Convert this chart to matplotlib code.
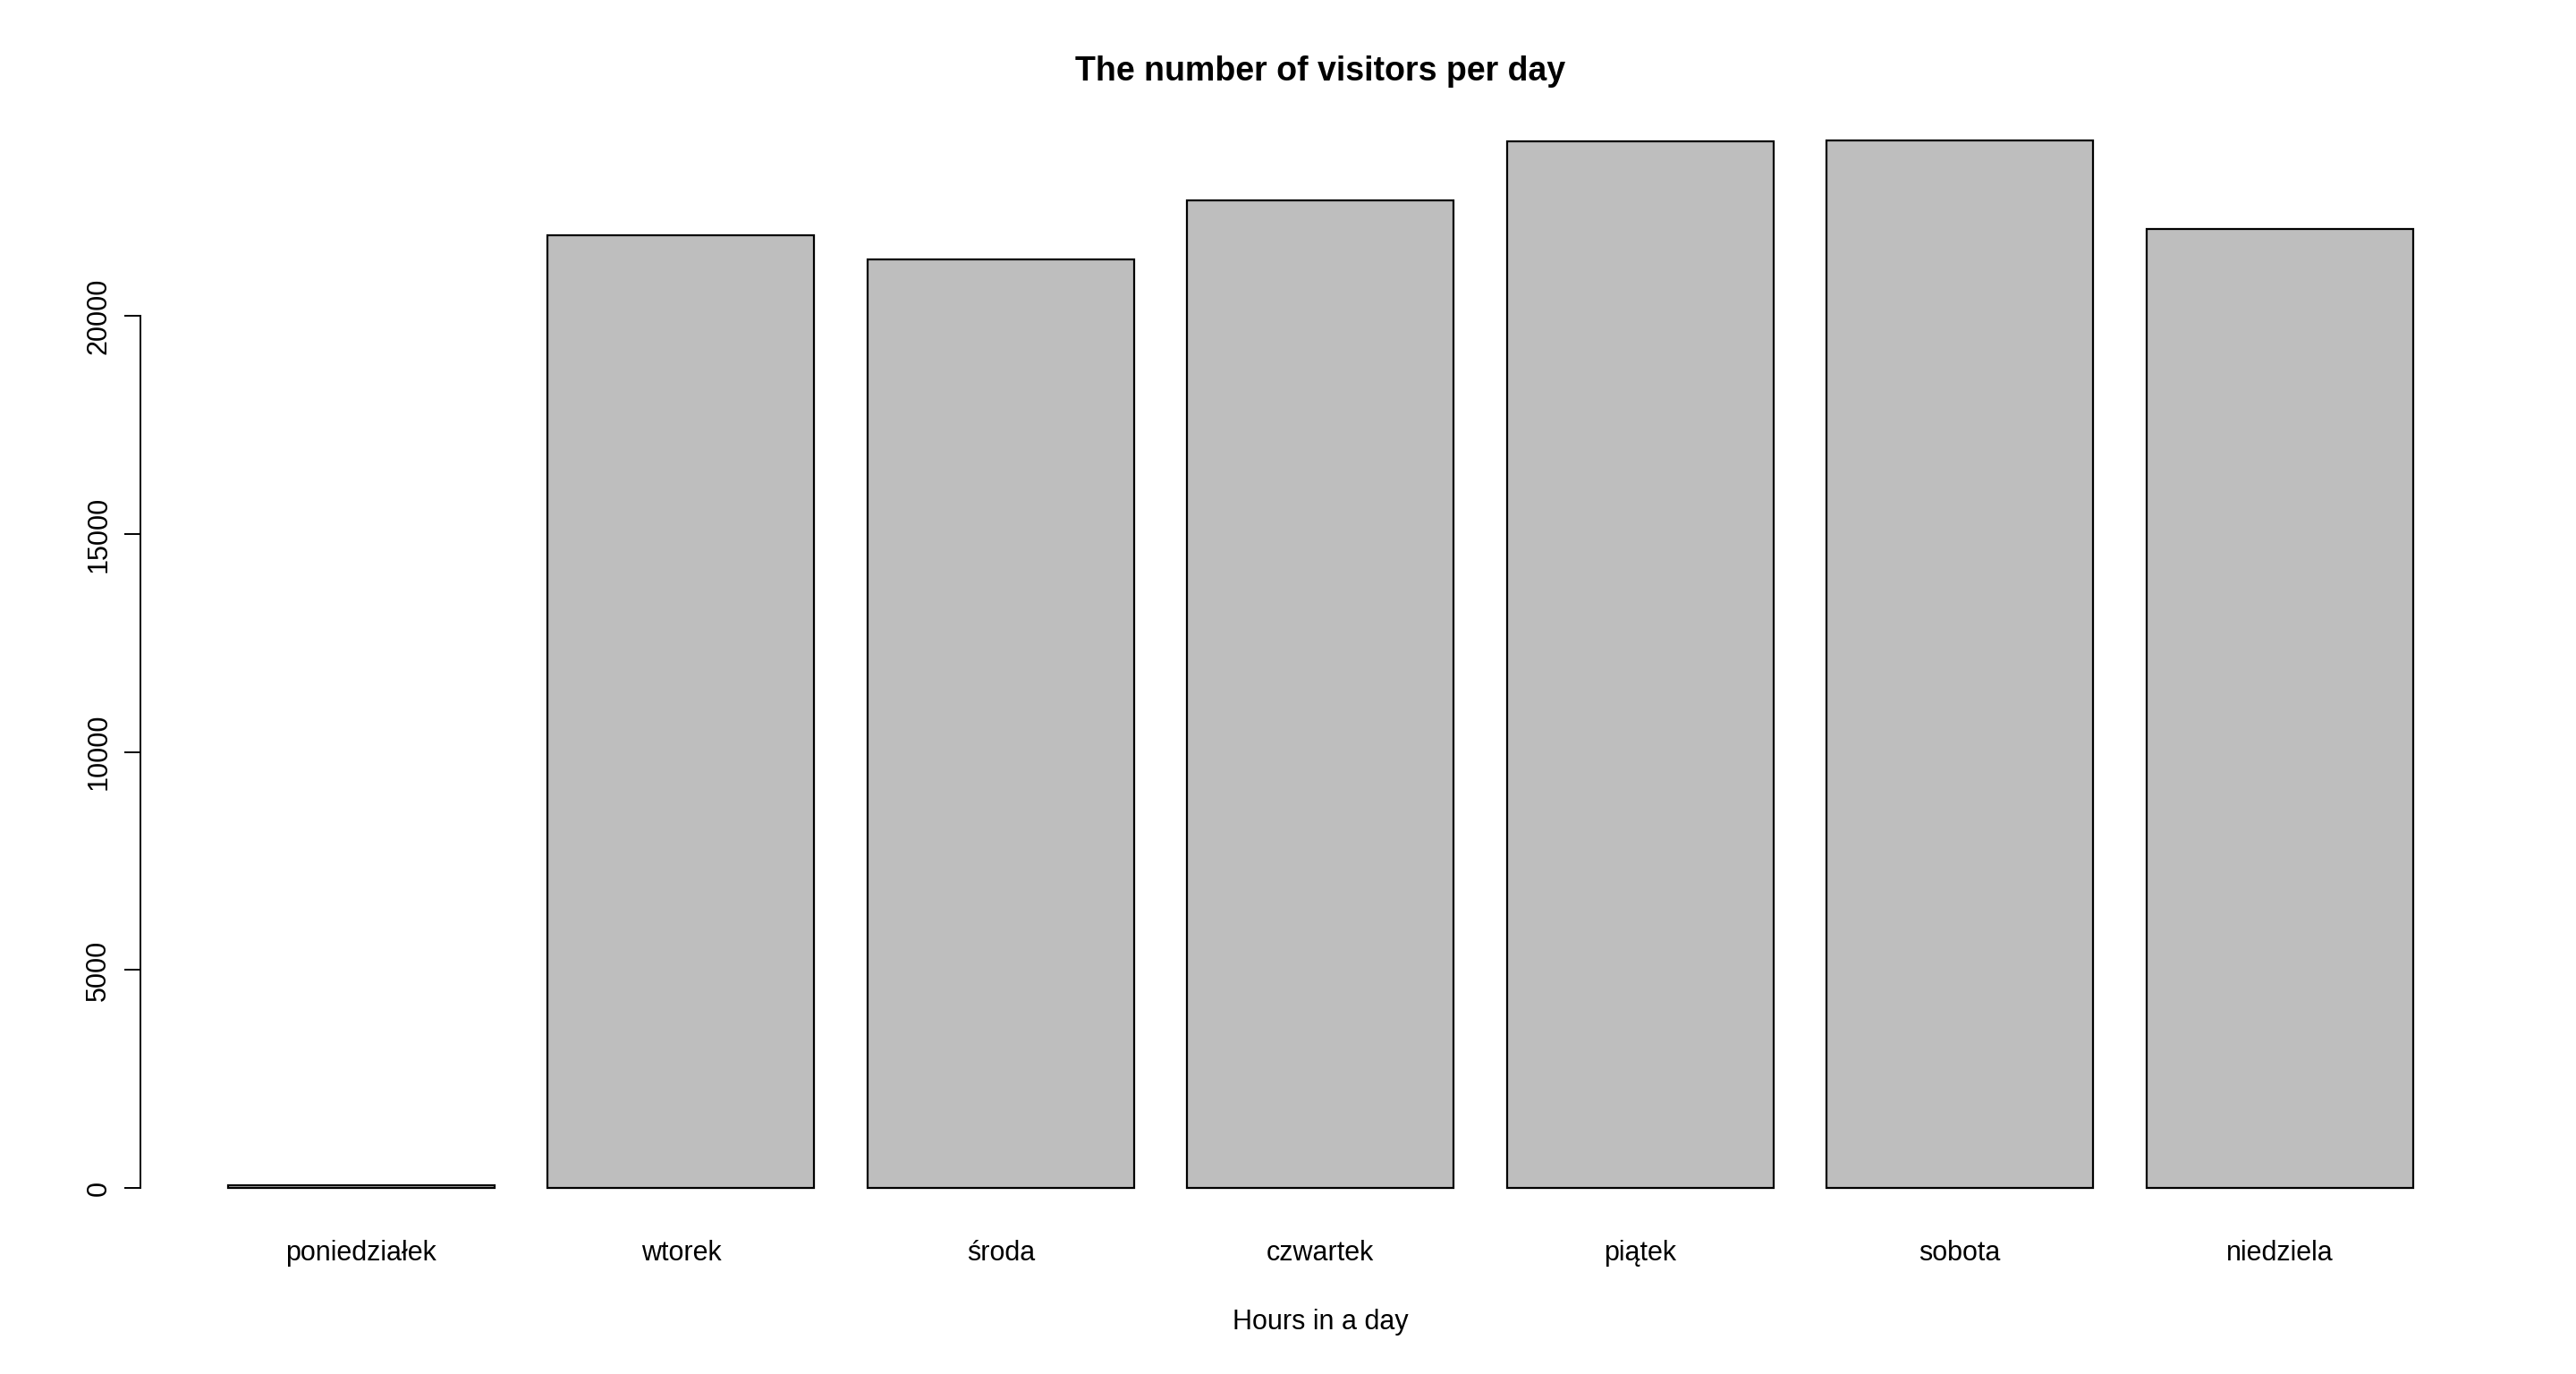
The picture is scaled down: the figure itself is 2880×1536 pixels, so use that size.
import matplotlib
matplotlib.use("Agg")
import matplotlib.pyplot as plt

days = ["poniedziałek", "wtorek", "środa", "czwartek", "piątek", "sobota", "niedziela"]
visitors = [60, 21850, 21300, 22650, 24000, 24030, 21990]
yticks = [0, 5000, 10000, 15000, 20000]

plt.rcParams["font.family"] = ["Liberation Sans", "DejaVu Sans"]

fig = plt.figure(figsize=(28.8, 15.36), dpi=100)
ax = fig.add_axes([0.0546, 0.1048, 0.916, 0.8237])

# R barplot style: width 1, space 0.2
pos = [0.7 + 1.2 * i for i in range(len(days))]
ax.bar(pos, visitors, width=1.0, color="#bebebe", edgecolor="black", linewidth=1.6)
ymax = max(visitors)
ax.set_xlim(0.2 - 0.04 * 8.2, 8.4 + 0.04 * 8.2)
ax.set_ylim(-0.04 * ymax, 1.04 * ymax)

for s in ["top", "right", "bottom"]:
    ax.spines[s].set_visible(False)
ax.spines["left"].set_bounds(0, 20000)
ax.spines["left"].set_linewidth(1.4)

ax.set_yticks(yticks)
ax.set_yticklabels([str(t) for t in yticks], rotation=90, va="center", fontsize=22)
ax.tick_params(axis="y", length=13, width=1.4, pad=10)
ax.set_xticks(pos)
ax.set_xticklabels(days, fontsize=22)
ax.tick_params(axis="x", length=0, pad=8)

ax.set_xlabel("Hours in a day", fontsize=22, labelpad=34)
ax.set_title("The number of visitors per day", fontsize=27, fontweight="bold", pad=14)

fig.savefig("out.png", dpi=100)
